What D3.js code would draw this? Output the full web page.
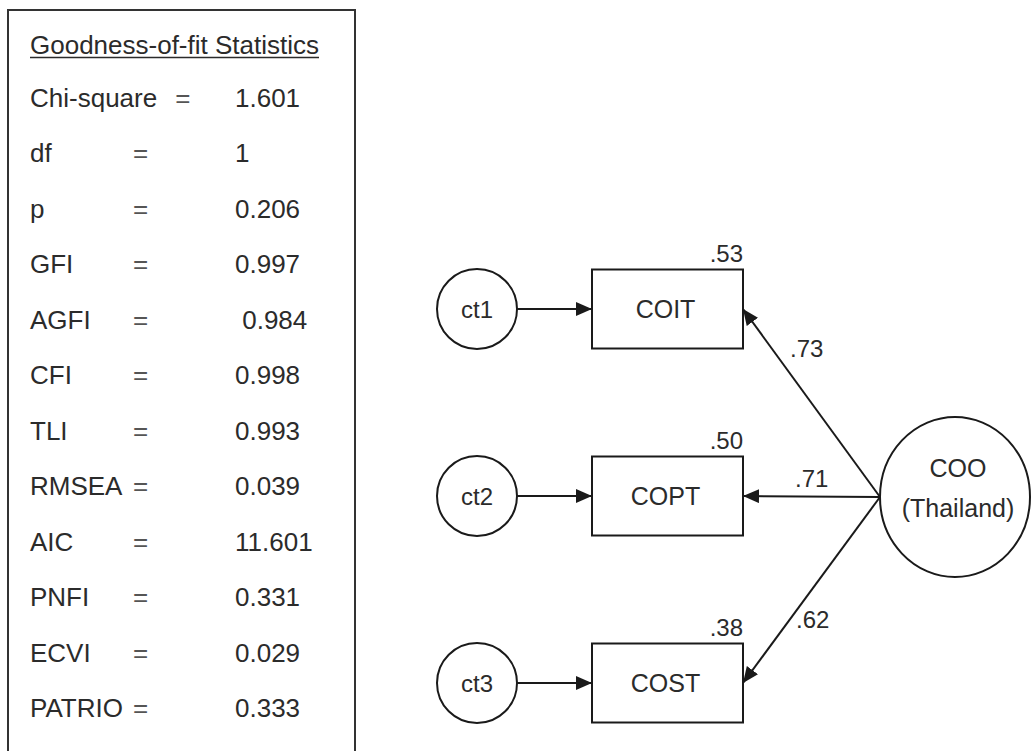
<!DOCTYPE html>
<html>
<head>
<meta charset="utf-8">
<script src="https://cdn.jsdelivr.net/npm/d3@7"></script>
<style>
  html, body { margin: 0; padding: 0; background: #fff; }
  svg { display: block; }
  text { font-family: "Liberation Sans", Arial, Helvetica, sans-serif; }
</style>
</head>
<body>
<svg id="chart" width="1031" height="751"></svg>
<script>
// Fit statistics of the measurement model
const statTitle = "Goodness-of-fit Statistics";
const statNames = ["Chi-square", "df", "p", "GFI", "AGFI", "CFI", "TLI", "RMSEA", "AIC", "PNFI", "ECVI", "PATRIO"];
const statValues = ["1.601", "1", "0.206", "0.997", " 0.984", "0.998", "0.993", "0.039", "11.601", "0.331", "0.029", "0.333"];

// Path model: one latent factor with three indicators
const factorName = ["COO", "(Thailand)"];
const indicators = ["COIT", "COPT", "COST"];
const errorTerms = ["ct1", "ct2", "ct3"];
const loadings = [0.73, 0.71, 0.62];
const rSquared = [0.53, 0.50, 0.38];

const svg = d3.select("#chart");
const ink = "#1a1a1a";
const textInk = "#2b2b2b";
const fmt = v => d3.format(".2f")(v).replace(/^0/, "");

// ---------- statistics panel ----------
const panel = svg.append("g");
panel.append("rect")
  .attr("x", 8).attr("y", 10)
  .attr("width", 347).attr("height", 800)
  .attr("fill", "none").attr("stroke", "#333").attr("stroke-width", 2);

const title = panel.append("text")
  .attr("x", 30).attr("y", 54)
  .attr("font-size", 26).attr("fill", textInk)
  .text(statTitle);
const tw = title.node().getComputedTextLength();
panel.append("line")
  .attr("x1", 30).attr("x2", 30 + tw)
  .attr("y1", 57.5).attr("y2", 57.5)
  .attr("stroke", textInk).attr("stroke-width", 1.5);

const rowY = d3.scalePoint().domain(statNames).range([107, 717]);
const rows = panel.selectAll("g.row").data(statNames).join("g").attr("class", "row");
rows.each(function(name, i) {
  const g = d3.select(this);
  const y = rowY(name);
  const lab = g.append("text")
    .attr("x", 30).attr("y", y)
    .attr("font-size", 26).attr("fill", textInk)
    .text(name);
  const end = 30 + lab.node().getComputedTextLength();
  const eqX = end > 140 ? end + 18 : 133;
  g.append("text")
    .attr("x", eqX).attr("y", y)
    .attr("font-size", 26).attr("fill", "#555")
    .text("=");
  g.append("text")
    .attr("x", 235).attr("y", y)
    .attr("font-size", 26).attr("fill", textInk)
    .style("white-space", "pre")
    .text(statValues[i]);
});

// ---------- path diagram ----------
const defs = svg.append("defs");
defs.append("marker")
  .attr("id", "arrow")
  .attr("markerUnits", "userSpaceOnUse")
  .attr("viewBox", "0 0 16 14")
  .attr("refX", 16).attr("refY", 7)
  .attr("markerWidth", 16).attr("markerHeight", 14)
  .attr("orient", "auto")
  .append("path")
  .attr("d", "M0,0 L16,7 L0,14 Z")
  .attr("fill", ink);

const rowScale = d3.scalePoint().domain(indicators).range([309, 683]);
const errX = 477, errR = 40;
const boxX0 = 592, boxX1 = 743, boxH = 79;
const factor = { cx: 955, cy: 497, rx: 75, ry: 80 };

const diagram = svg.append("g");

// error terms
diagram.selectAll("circle.err").data(indicators).join("circle")
  .attr("class", "err")
  .attr("cx", errX).attr("cy", d => rowScale(d)).attr("r", errR)
  .attr("fill", "#fff").attr("stroke", ink).attr("stroke-width", 2);
diagram.selectAll("text.err").data(indicators).join("text")
  .attr("class", "err")
  .attr("x", errX).attr("y", d => rowScale(d)).attr("dy", "0.36em")
  .attr("text-anchor", "middle").attr("font-size", 24).attr("fill", textInk)
  .text((d, i) => errorTerms[i]);

// error -> indicator arrows
diagram.selectAll("line.err").data(indicators).join("line")
  .attr("class", "err")
  .attr("x1", errX + errR).attr("x2", boxX0)
  .attr("y1", d => rowScale(d)).attr("y2", d => rowScale(d))
  .attr("stroke", ink).attr("stroke-width", 2)
  .attr("marker-end", "url(#arrow)");

// indicator boxes
diagram.selectAll("rect.ind").data(indicators).join("rect")
  .attr("class", "ind")
  .attr("x", boxX0).attr("y", d => rowScale(d) - boxH / 2)
  .attr("width", boxX1 - boxX0).attr("height", boxH)
  .attr("fill", "#fff").attr("stroke", ink).attr("stroke-width", 2);
diagram.selectAll("text.ind").data(indicators).join("text")
  .attr("class", "ind")
  .attr("x", (boxX0 + boxX1) / 2 - 2).attr("y", d => rowScale(d)).attr("dy", "0.36em")
  .attr("text-anchor", "middle").attr("font-size", 25).attr("fill", textInk)
  .text(d => d);

// squared multiple correlations
diagram.selectAll("text.r2").data(indicators).join("text")
  .attr("class", "r2")
  .attr("x", boxX1).attr("y", d => rowScale(d) - boxH / 2 - 8)
  .attr("text-anchor", "end").attr("font-size", 24).attr("fill", textInk)
  .text((d, i) => fmt(rSquared[i]));

// factor -> indicator loadings
const origin = [factor.cx - factor.rx, factor.cy];
diagram.selectAll("line.load").data(indicators).join("line")
  .attr("class", "load")
  .attr("x1", origin[0]).attr("y1", origin[1])
  .attr("x2", boxX1).attr("y2", d => rowScale(d))
  .attr("stroke", ink).attr("stroke-width", 2)
  .attr("marker-end", "url(#arrow)");

diagram.selectAll("text.load").data(indicators).join("text")
  .attr("class", "load")
  .each(function(d, i) {
    const y2 = rowScale(d);
    const flat = Math.abs(y2 - origin[1]) < 4;
    const up = y2 < origin[1];
    const t = flat ? 0.38 : 0.27;
    const px = boxX1 + (origin[0] - boxX1) * t;
    const py = y2 + (origin[1] - y2) * t;
    d3.select(this)
      .attr("x", flat ? px : px + (up ? 10 : 16))
      .attr("y", flat ? py - 9 : py + (up ? -3 : -5));
  })
  .attr("font-size", 24).attr("fill", textInk)
  .text((d, i) => fmt(loadings[i]));

// latent factor
diagram.append("ellipse")
  .attr("cx", factor.cx).attr("cy", factor.cy)
  .attr("rx", factor.rx).attr("ry", factor.ry)
  .attr("fill", "#fff").attr("stroke", ink).attr("stroke-width", 2);
diagram.selectAll("text.factor").data(factorName).join("text")
  .attr("class", "factor")
  .attr("x", factor.cx + 3)
  .attr("y", (d, i) => factor.cy + (i === 0 ? -20 : 20))
  .attr("text-anchor", "middle").attr("font-size", 25).attr("fill", textInk)
  .text(d => d);
</script>
</body>
</html>
